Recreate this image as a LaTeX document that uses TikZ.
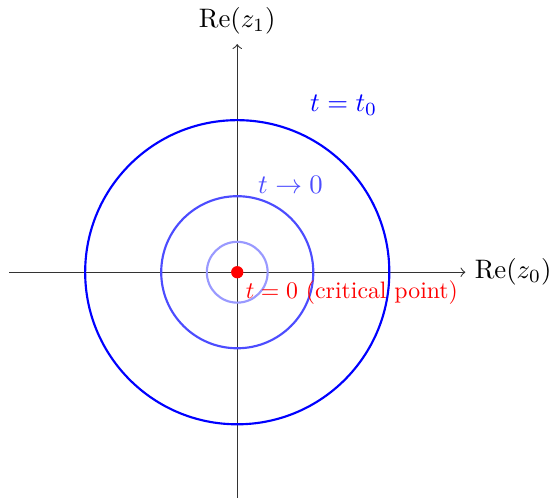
\documentclass[tikz,border=0pt]{standalone}
\usepackage{amsmath}
\begin{document}
\begin{tikzpicture}[
  axis/.style={->,black!80},
  orbit/.style={thick},
  crit/.style={circle,fill=red,inner sep=0pt,minimum size=4.6pt},
  lbl/.style={font=\normalsize}]
\useasboundingbox (-3.12,-2.96) rectangle (4.10,3.58);
\coordinate (xl) at (-3,0);
\coordinate (xr) at (3,0);
\coordinate (yb) at (0,-3);
\coordinate (yt) at (0,3);
\draw[axis] (xl) -- (xr) node[right,text=black] {$\mathrm{Re}(z_0)$};
\draw[axis] (yb) -- (yt) node[above,text=black] {$\mathrm{Re}(z_1)$};
\draw[orbit,blue] (0,0) circle (2);
\draw[orbit,blue!70] (0,0) circle (1);
\draw[orbit,blue!40] (0,0) circle (0.4);
\node[crit] (c) at (0,0) {};
\node[lbl,blue] (t0) at (1.4,2.2) {$t=t_0$};
\node[lbl,blue!70] (tz) at (0.7,1.15) {$t\to 0$};
\node[red,anchor=north west,inner sep=3pt] (cl) at (c.center) {\scalebox{0.89}{$t=0$ (critical point)}};
\end{tikzpicture}
\end{document}
